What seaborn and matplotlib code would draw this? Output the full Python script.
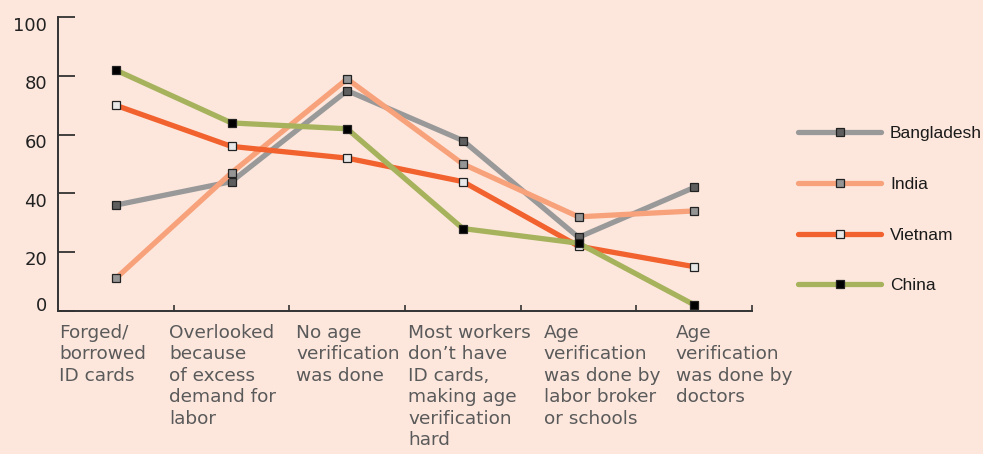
import matplotlib
matplotlib.use("Agg")
import matplotlib.pyplot as plt
import matplotlib.transforms as mtransforms
import seaborn as sns
import pandas as pd

categories = [
    "Forged/\nborrowed\nID cards",
    "Overlooked\nbecause\nof excess\ndemand for\nlabor",
    "No age\nverification\nwas done",
    "Most workers\ndon\u2019t have\nID cards,\nmaking age\nverification\nhard",
    "Age\nverification\nwas done by\nlabor broker\nor schools",
    "Age\nverification\nwas done by\ndoctors",
]
countries = ["Bangladesh", "India", "Vietnam", "China"]
bangladesh = [36, 44, 75, 58, 25, 42]
india = [11, 47, 79, 50, 32, 34]
vietnam = [70, 56, 52, 44, 22, 15]
china = [82, 64, 62, 28, 23, 2]
y_ticks = [0, 20, 40, 60, 80, 100]

series = {"Bangladesh": bangladesh, "India": india, "Vietnam": vietnam, "China": china}
line_colors = {"Bangladesh": "#999999", "India": "#F7A27B", "Vietnam": "#F2622E", "China": "#A6B25C"}
marker_colors = {"Bangladesh": "#5E5E5E", "India": "#959595", "Vietnam": "#E8E8E8", "China": "#000000"}
label_offsets = [-0.49, -0.54, -0.44, -0.47, -0.30, -0.16]

rows = []
for c in countries:
    for i, v in enumerate(series[c]):
        rows.append({"country": c, "idx": i, "value": v})
df = pd.DataFrame(rows)

bg = "#FDE7DD"
sns.set_style("white")
plt.rcParams["font.family"] = ["DejaVu Sans"]

fig = plt.figure(figsize=(9.83, 4.54), dpi=100, facecolor=bg)
ax = fig.add_axes([58 / 983, 1 - 310.7 / 454, (752 - 58) / 983, (310.7 - 17.3) / 454])
ax.set_facecolor(bg)

for c in countries:
    sub = df[df["country"] == c]
    sns.lineplot(data=sub, x="idx", y="value", ax=ax, color=line_colors[c], lw=3.8,
                 marker="s", markersize=6.4, markerfacecolor=marker_colors[c],
                 markeredgecolor="#222222", markeredgewidth=0.9, label=c)

ax.set_xlim(-0.5, 5.5)
ax.set_ylim(0, 100)
ax.set_xlabel("")
ax.set_ylabel("")
for s in ["top", "right"]:
    ax.spines[s].set_visible(False)
for s in ["left", "bottom"]:
    ax.spines[s].set_color("#333333")
    ax.spines[s].set_linewidth(1.4)

ax.set_xticks([i + 0.5 for i in range(len(categories))])
ax.set_xticklabels([])
ax.tick_params(axis="x", direction="in", length=4.5, width=1.2, color="#333333", bottom=True)
ax.set_yticks(y_ticks)
ax.set_yticklabels([str(t) for t in y_ticks])
ax.tick_params(axis="y", direction="in", length=12.2, width=1.3, color="#333333", left=True,
               pad=8, labelsize=13, labelcolor="#222222")
for t, lab in zip(y_ticks, ax.get_yticklabels()):
    dy = 5 / 72 if t == 0 else -4.5 / 72
    lab.set_transform(lab.get_transform() + mtransforms.ScaledTranslation(0, dy, fig.dpi_scale_trans))

trans = mtransforms.blended_transform_factory(ax.transData, ax.transAxes)
for i, (lab, off) in enumerate(zip(categories, label_offsets)):
    ax.text(i + off, -0.045, lab, transform=trans, ha="left", va="top",
            fontsize=13.3, color="#5A5A5A", linespacing=1.25)

leg = ax.legend(loc="upper left", bbox_to_anchor=(798 / 983, 1 - 126 / 454),
                bbox_transform=fig.transFigure, frameon=False, borderpad=0, borderaxespad=0,
                handlelength=4.8, handletextpad=0.5, labelspacing=2.05,
                prop={"family": "Liberation Sans", "size": 12.5})
for t in leg.get_texts():
    t.set_color("#1A1A1A")

fig.savefig("out.png", dpi=100, facecolor=bg)
